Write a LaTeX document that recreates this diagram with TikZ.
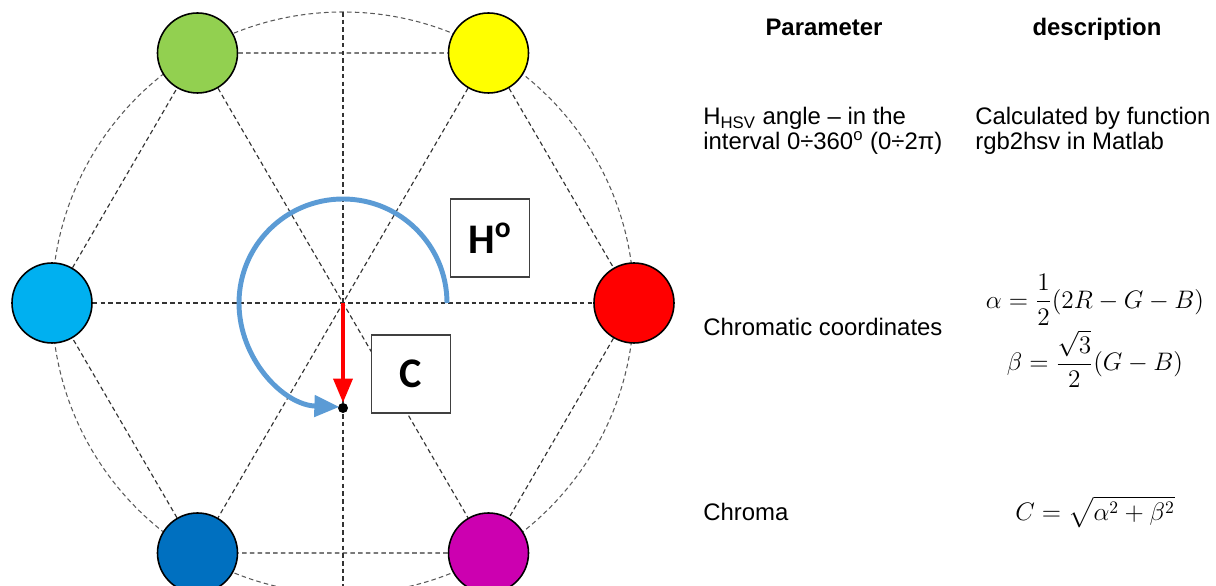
\documentclass[tikz,border=0pt]{standalone}
\usepackage{amsmath}
\usepackage{fontspec}
\setmainfont{Liberation Sans}
\newfontfamily\boxfont{Carlito}
\usetikzlibrary{arrows.meta,calc}
\definecolor{hred}{RGB}{255,0,0}
\definecolor{hyellow}{RGB}{255,255,0}
\definecolor{hgreen}{RGB}{146,208,80}
\definecolor{hcyan}{RGB}{0,176,240}
\definecolor{hblue}{RGB}{0,112,192}
\definecolor{hmagenta}{RGB}{204,0,176}
\definecolor{arcblue}{RGB}{91,155,213}
\tikzset{
  guide/.style={draw=black!80, line width=0.65pt, dash pattern=on 2.6pt off 1.8pt},
  rim/.style={draw=black!65, line width=0.6pt, dash pattern=on 2.6pt off 1.8pt},
  hue/.style={draw=black, line width=0.9pt, circle, minimum size=1.6cm, inner sep=0pt},
  labelbox/.style={draw=black!75, line width=0.6pt, fill=white, minimum width=1.58cm, minimum height=1.56cm, inner sep=0pt,
    font=\boxfont\bfseries\fontsize{24}{24}\selectfont},
  huearc/.style={draw=arcblue, line width=2.8pt, -{Triangle[length=0.5cm, width=0.42cm]}},
  chromaline/.style={draw=red, line width=2pt, -{Triangle[length=0.48cm, width=0.38cm]}},
  txt/.style={font=\fontsize{13.6}{14}\selectfont, align=left, anchor=west, inner sep=0pt},
  head/.style={font=\fontsize{13.6}{14}\selectfont\bfseries, anchor=base, inner sep=0pt},
  eqn/.style={font=\fontsize{13.6}{14}\selectfont, inner sep=0pt}
}

\begin{document}
\begin{tikzpicture}
  \useasboundingbox (0,0) rectangle (24.32,11.72);
  \coordinate (o) at (6.86,5.66);
  \coordinate (top) at (6.86,11.48);
  \coordinate (bot) at (6.86,0);
  \draw[rim] (o) circle (5.82);

  % colour wheel
  \node[hue, fill=hred] (r) at (12.68,5.66) {};
  \node[hue, fill=hyellow] (y) at (9.77,10.66) {};
  \node[hue, fill=hgreen] (g) at (3.95,10.66) {};
  \node[hue, fill=hcyan] (c) at (1.04,5.66) {};
  \node[hue, fill=hblue] (b) at (3.95,0.66) {};
  \node[hue, fill=hmagenta] (m) at (9.77,0.66) {};

  \draw[guide] (top) -- (bot);
  \draw[guide] (c) -- (r);
  \draw[guide] (g) -- (m);
  \draw[guide] (y) -- (b);
  \draw[guide] (g) -- (y) -- (r) -- (m) -- (b) -- (c) -- (g);

  \node[labelbox] (hbox) at (9.8,6.96) {H\textsuperscript{o}};
  \node[labelbox] (cbox) at (8.22,4.24) {C};

  \node[circle, fill=black, minimum size=0.2cm, inner sep=0pt] (dot) at (6.86,3.56) {};
  \draw[huearc] ($(o)+(2.08,0)$) arc[start angle=0, end angle=268, radius=2.08];
  \draw[chromaline] (o) -- (dot);

  % parameter table
  \node[head] (par) at (16.48,11.0) {Parameter};
  \node[head] (desc) at (21.94,11.0) {description};
  \node[txt] (hsv) at (14.06,9.1) {H\textsubscript{HSV} angle -- in the\\interval 0÷360\textsuperscript{o} (0÷2π)};
  \node[txt] (calc) at (19.5,9.1) {Calculated by function\\rgb2hsv in Matlab};
  \node[txt] (chrom) at (14.06,5.18) {Chromatic coordinates};
  \node[eqn] (alpha) at (21.9,5.72) {$\alpha=\dfrac{1}{2}(2R-G-B)$};
  \node[eqn] (beta) at (21.9,4.54) {$\beta=\dfrac{\sqrt{3}}{2}(G-B)$};
  \node[txt] (chroma) at (14.06,1.48) {Chroma};
  \node[eqn] (ceq) at (21.9,1.48) {$C=\sqrt{\alpha^2+\beta^2}$};
\end{tikzpicture}
\end{document}
